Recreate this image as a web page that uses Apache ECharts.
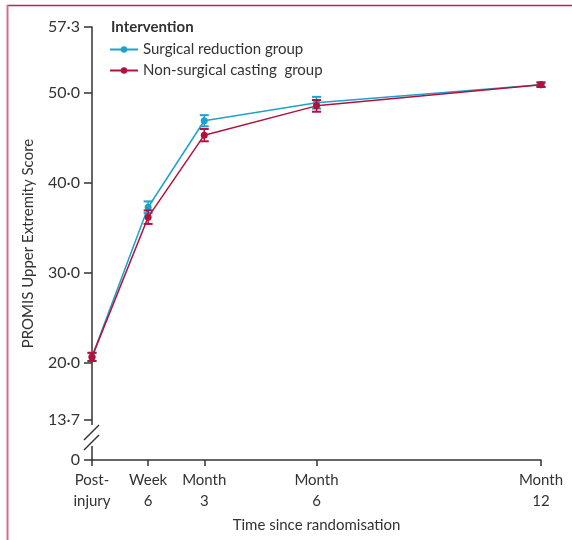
<!DOCTYPE html>
<html>
<head>
<meta charset="utf-8">
<script src="https://cdn.jsdelivr.net/npm/echarts@6/dist/echarts.min.js"></script>
<style>
html,body{margin:0;padding:0;background:#fff;}
#main{width:572px;height:540px;}
</style>
</head>
<body>
<div id="main"></div>
<script>
// time points in months (week 6 = 1.5)
var timePoints = [0, 1.5, 3, 6, 12];
var timeLabels = ['Post-\ninjury', 'Week\n6', 'Month\n3', 'Month\n6', 'Month\n12'];

var surgicalMean = [20.7, 37.3, 46.9, 48.9, 50.9];
var surgicalErr  = [0.45, 0.65, 0.62, 0.65, 0.25];
var castingMean  = [20.7, 36.2, 45.3, 48.55, 50.9];
var castingErr   = [0.45, 0.75, 0.68, 0.65, 0.25];

// axis break: value "0" is drawn at the bottom of the axis
var yBottom = 9.26;
var yTicks = [yBottom, 13.7, 20, 30, 40, 50, 57.3];

var blue = '#1ea2c9';
var red = '#b3103d';
var fontFam = 'Lato';

function pairs(xs, ys) {
    var out = [];
    for (var i = 0; i < xs.length; i++) out.push([xs[i], ys[i]]);
    return out;
}
function errData(xs, ys, es) {
    var out = [];
    for (var i = 0; i < xs.length; i++) out.push([xs[i], ys[i] - es[i], ys[i] + es[i]]);
    return out;
}
function errSeries(name, data, color) {
    return {
        name: name,
        type: 'custom',
        data: data,
        z: 4,
        renderItem: function (params, api) {
            var lo = api.coord([api.value(0), api.value(1)]);
            var hi = api.coord([api.value(0), api.value(2)]);
            var w = 4.5;
            var st = {stroke: color, lineWidth: 2};
            return {
                type: 'group',
                children: [
                    {type: 'line', shape: {x1: lo[0], y1: lo[1], x2: hi[0], y2: hi[1]}, style: {stroke: color, lineWidth: 1.5}},
                    {type: 'line', shape: {x1: lo[0] - w, y1: lo[1], x2: lo[0] + w, y2: lo[1]}, style: st},
                    {type: 'line', shape: {x1: hi[0] - w, y1: hi[1], x2: hi[0] + w, y2: hi[1]}, style: st}
                ]
            };
        }
    };
}

var myChart = echarts.init(document.getElementById('main'));
var option = {
    animation: false,
    textStyle: {fontFamily: fontFam},
    title: {
        text: 'Intervention',
        left: 106,
        top: 15,
        textStyle: {fontFamily: fontFam, fontSize: 15, fontWeight: 'bold', color: '#333'}
    },
    legend: {
        orient: 'vertical',
        left: 104,
        top: 37,
        itemWidth: 28,
        itemHeight: 8,
        itemGap: 6,
        data: ['Surgical reduction group', 'Non-surgical casting  group'],
        textStyle: {fontFamily: fontFam, fontSize: 15, color: '#333'}
    },
    grid: {left: 92, right: 31, top: 27, bottom: 80, containLabel: false},
    xAxis: {
        type: 'value',
        min: 0,
        max: 12,
        name: 'Time since randomisation',
        nameLocation: 'middle',
        nameGap: 58,
        nameTextStyle: {fontFamily: fontFam, fontSize: 15, color: '#333'},
        splitLine: {show: false},
        axisLine: {lineStyle: {color: '#333', width: 1.5}},
        axisTick: {show: true, length: 6, customValues: timePoints, lineStyle: {color: '#333', width: 1.5}},
        axisLabel: {
            customValues: timePoints,
            margin: 10,
            fontSize: 15,
            lineHeight: 21,
            color: '#333',
            formatter: function (v) {
                var i = timePoints.indexOf(v);
                return i >= 0 ? timeLabels[i] : '';
            }
        }
    },
    yAxis: {
        type: 'value',
        min: yBottom,
        max: 57.3,
        name: 'PROMIS Upper Extremity Score',
        nameLocation: 'middle',
        nameGap: 56,
        nameTextStyle: {fontFamily: fontFam, fontSize: 15, color: '#333'},
        splitLine: {show: false},
        axisLine: {show: true, lineStyle: {color: '#333', width: 1.5}},
        axisTick: {show: true, length: 8, customValues: yTicks, lineStyle: {color: '#333', width: 1.5}},
        axisLabel: {
            customValues: yTicks,
            margin: 12,
            fontSize: 16,
            color: '#333',
            formatter: function (v) {
                if (v < 10) return '0';
                return v.toFixed(1).replace('.', '\u00b7');
            }
        }
    },
    series: [
        {
            name: 'Surgical reduction group',
            type: 'line',
            data: pairs(timePoints, surgicalMean),
            symbol: 'circle',
            symbolSize: 7,
            z: 3,
            itemStyle: {color: blue},
            lineStyle: {color: blue, width: 1.5}
        },
        errSeries('Surgical reduction group', errData(timePoints, surgicalMean, surgicalErr), blue),
        {
            name: 'Non-surgical casting  group',
            type: 'line',
            data: pairs(timePoints, castingMean),
            symbol: 'circle',
            symbolSize: 7,
            z: 5,
            itemStyle: {color: red},
            lineStyle: {color: red, width: 1.5}
        },
        errSeries('Non-surgical casting  group', errData(timePoints, castingMean, castingErr), red)
    ]
};
myChart.setOption(option);

// axis break marks and the figure frame
var p13 = myChart.convertToPixel({gridIndex: 0}, [0, 13.7]);
var ax = p13[0], by = p13[1];
myChart.setOption({
    graphic: [
        {type: 'rect', shape: {x: ax - 3, y: by + 5, width: 6, height: 21}, style: {fill: '#fff'}, z: 100},
        {type: 'line', shape: {x1: ax + 7, y1: by + 5, x2: ax - 8, y2: by + 20}, style: {stroke: '#333', lineWidth: 1.5}, z: 101},
        {type: 'line', shape: {x1: ax + 7, y1: by + 15, x2: ax - 8, y2: by + 30}, style: {stroke: '#333', lineWidth: 1.5}, z: 101},
        {type: 'line', shape: {x1: 7, y1: 5.5, x2: 572, y2: 5.5}, style: {stroke: '#b8254e', lineWidth: 1.5}, z: 100},
        {type: 'line', shape: {x1: 7.5, y1: 5, x2: 7.5, y2: 540}, style: {stroke: '#d2708d', lineWidth: 2}, z: 100}
    ]
});
</script>
</body>
</html>
